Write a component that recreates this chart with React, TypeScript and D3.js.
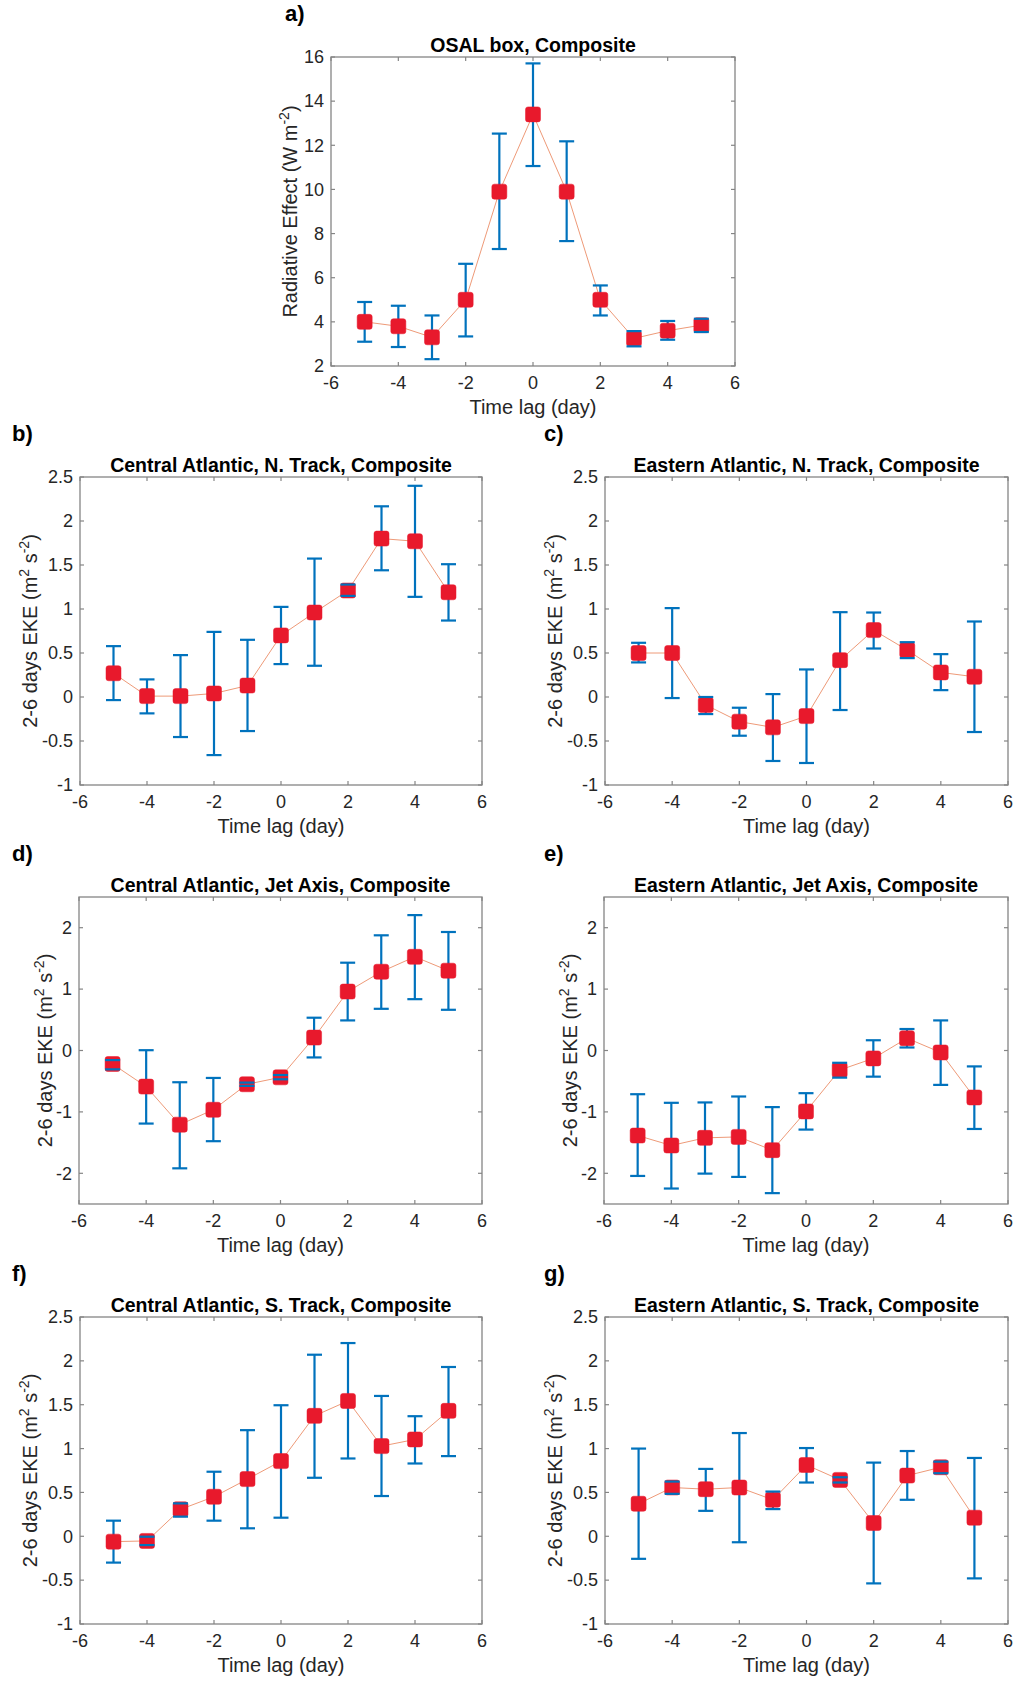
import React from "react"
import { scaleLinear, line } from "d3"

// time lags (days)
const lags = [-5, -4, -3, -2, -1, 0, 1, 2, 3, 4, 5]

const xTicks = [-6, -4, -2, 0, 2, 4, 6]
const yTicksOsal = [2, 4, 6, 8, 10, 12, 14, 16]
const yTicksEke = [-1, -0.5, 0, 0.5, 1, 1.5, 2, 2.5]
const yTicksJet = [-2, -1, 0, 1, 2]

// a) OSAL box
const osalMean = [4.0, 3.8, 3.3, 5.0, 9.9, 13.4, 9.9, 5.0, 3.25, 3.6, 3.85]
const osalLow = [3.1, 2.86, 2.31, 3.34, 7.3, 11.06, 7.66, 4.29, 2.89, 3.19, 3.54]
const osalHigh = [4.9, 4.73, 4.29, 6.63, 12.53, 15.71, 12.18, 5.65, 3.58, 4.04, 4.14]

// b) Central Atlantic, N. Track
const caNMean = [0.27, 0.01, 0.01, 0.04, 0.13, 0.7, 0.96, 1.21, 1.8, 1.77, 1.19]
const caNLow = [-0.035, -0.186, -0.455, -0.66, -0.387, 0.374, 0.355, 1.149, 1.44, 1.138, 0.869]
const caNHigh = [0.578, 0.2, 0.476, 0.74, 0.65, 1.024, 1.573, 1.278, 2.167, 2.4, 1.509]

// c) Eastern Atlantic, N. Track
const eaNMean = [0.5, 0.5, -0.09, -0.28, -0.345, -0.217, 0.419, 0.76, 0.533, 0.279, 0.23]
const eaNLow = [0.393, -0.012, -0.194, -0.44, -0.727, -0.75, -0.148, 0.551, 0.442, 0.078, -0.398]
const eaNHigh = [0.616, 1.01, 0.0, -0.122, 0.033, 0.313, 0.964, 0.96, 0.623, 0.487, 0.858]

// d) Central Atlantic, Jet Axis
const caJMean = [-0.22, -0.588, -1.208, -0.965, -0.55, -0.437, 0.21, 0.96, 1.283, 1.526, 1.3]
const caJLow = [-0.307, -1.19, -1.919, -1.477, -0.577, -0.469, -0.113, 0.49, 0.679, 0.836, 0.663]
const caJHigh = [-0.156, 0.005, -0.517, -0.447, -0.523, -0.399, 0.534, 1.43, 1.876, 2.205, 1.93]

// e) Eastern Atlantic, Jet Axis
const eaJMean = [-1.385, -1.547, -1.423, -1.407, -1.623, -0.992, -0.318, -0.129, 0.2, -0.032, -0.765]
const eaJLow = [-2.043, -2.248, -2.005, -2.059, -2.323, -1.288, -0.442, -0.426, 0.049, -0.56, -1.278]
const eaJHigh = [-0.712, -0.852, -0.846, -0.749, -0.922, -0.695, -0.2, 0.167, 0.35, 0.49, -0.259]

// f) Central Atlantic, S. Track
const caSMean = [-0.061, -0.053, 0.307, 0.451, 0.652, 0.857, 1.373, 1.543, 1.028, 1.104, 1.43]
const caSLow = [-0.3, -0.1, 0.224, 0.178, 0.091, 0.212, 0.667, 0.887, 0.459, 0.83, 0.914]
const caSHigh = [0.178, -0.005, 0.375, 0.736, 1.21, 1.494, 2.07, 2.203, 1.6, 1.369, 1.93]

// g) Eastern Atlantic, S. Track
const eaSMean = [0.371, 0.556, 0.537, 0.556, 0.416, 0.813, 0.643, 0.151, 0.692, 0.787, 0.212]
const eaSLow = [-0.257, 0.484, 0.29, -0.068, 0.31, 0.613, 0.613, -0.537, 0.416, 0.719, -0.48]
const eaSHigh = [1.0, 0.624, 0.768, 1.177, 0.51, 1.006, 0.673, 0.84, 0.972, 0.851, 0.893]

const FONT = "'Liberation Sans', Arial, Helvetica, sans-serif"
const TEXT = "#262626"
const AXIS = "#858585"
const BLUE = "#0072BD"
const RED = "#E8192C"
const LINE = "#EE9A78"

interface PanelProps {
  tag: string
  tagX: number
  title: string
  left: number
  top: number
  width: number
  height: number
  yDomain: [number, number]
  yTicks: number[]
  mean: number[]
  low: number[]
  high: number[]
  yLabelOffset: number
  osal?: boolean
}

function Panel({
  tag, tagX, title, left, top, width, height, yDomain, yTicks,
  mean, low, high, yLabelOffset, osal,
}: PanelProps) {
  const x = scaleLinear().domain([-6, 6]).range([0, width])
  const y = scaleLinear().domain(yDomain).range([height, 0])
  const tickLen = 4
  const capHalf = 7.5
  const marker = 15
  const pts = lags.map((l, i) => [x(l), y(mean[i])] as [number, number])
  const path = line()(pts) ?? ""

  return (
    <g transform={`translate(${left},${top})`} fontFamily={FONT}>
      <text x={tagX - left} y={-36} fontSize={22} fontWeight="bold" fill="#000">{tag}</text>
      <text x={width / 2} y={-5} textAnchor="middle" fontSize={19.5}
        fontWeight="bold" fill="#000">{title}</text>

      {/* ticks */}
      {xTicks.map((t) => (
        <g key={"x" + t}>
          <line x1={x(t)} x2={x(t)} y1={height} y2={height - tickLen} stroke={AXIS} strokeWidth={1.2} />
          <line x1={x(t)} x2={x(t)} y1={0} y2={tickLen} stroke={AXIS} strokeWidth={1.2} />
          <text x={x(t)} y={height + 23} textAnchor="middle" fontSize={18} fill={TEXT}>{t}</text>
        </g>
      ))}
      {yTicks.map((t) => (
        <g key={"y" + t}>
          <line x1={0} x2={tickLen} y1={y(t)} y2={y(t)} stroke={AXIS} strokeWidth={1.2} />
          <line x1={width} x2={width - tickLen} y1={y(t)} y2={y(t)} stroke={AXIS} strokeWidth={1.2} />
          <text x={-7} y={y(t)} dy="0.35em" textAnchor="end" fontSize={18} fill={TEXT}>{t}</text>
        </g>
      ))}
      <rect x={0} y={0} width={width} height={height} fill="none" stroke={AXIS} strokeWidth={1.3} />

      {/* axis labels */}
      <text x={width / 2} y={height + 48} textAnchor="middle" fontSize={20} fill={TEXT}>Time lag (day)</text>
      <text transform={`translate(${-yLabelOffset},${height / 2}) rotate(-90)`} textAnchor="middle" fontSize={20} fill={TEXT}>
        {osal ? (
          <>
            Radiative Effect (W m<tspan fontSize={14} dy={-8}>-2</tspan><tspan dy={8}>)</tspan>
          </>
        ) : (
          <>
            2-6 days EKE (m<tspan fontSize={14} dy={-8}>2</tspan><tspan dy={8}> s</tspan><tspan fontSize={14} dy={-8}>-2</tspan><tspan dy={8}>)</tspan>
          </>
        )}
      </text>

      {/* error bar stems */}
      {lags.map((l, i) => (
        <line key={"s" + l} x1={x(l)} x2={x(l)} y1={y(low[i])} y2={y(high[i])} stroke={BLUE} strokeWidth={2.2} />
      ))}
      <path d={path} fill="none" stroke={LINE} strokeWidth={1} />
      {lags.map((l, i) => (
        <rect key={"m" + l} x={x(l) - marker / 2} y={y(mean[i]) - marker / 2} width={marker} height={marker}
          rx={2.5} fill={RED} stroke={RED} strokeWidth={0.5} />
      ))}
      {/* caps */}
      {lags.map((l, i) => (
        <g key={"c" + l}>
          <line x1={x(l) - capHalf} x2={x(l) + capHalf} y1={y(low[i])} y2={y(low[i])} stroke={BLUE} strokeWidth={2.2} />
          <line x1={x(l) - capHalf} x2={x(l) + capHalf} y1={y(high[i])} y2={y(high[i])} stroke={BLUE} strokeWidth={2.2} />
        </g>
      ))}
    </g>
  )
}

export default function App() {
  return (
    <svg width={1016} height={1681} style={{ position: "absolute", left: 0, top: 0, background: "#fff" }}>
      <rect width={1016} height={1681} fill="#fff" />
      <Panel tag="a)" tagX={285} title="OSAL box, Composite" left={331} top={57} width={404} height={309}
        yDomain={[2, 16]} yTicks={yTicksOsal} mean={osalMean} low={osalLow} high={osalHigh} yLabelOffset={34} osal />
      <Panel tag="b)" tagX={12} title="Central Atlantic, N. Track, Composite" left={80} top={477} width={402} height={308}
        yDomain={[-1, 2.5]} yTicks={yTicksEke} mean={caNMean} low={caNLow} high={caNHigh} yLabelOffset={43} />
      <Panel tag="c)" tagX={544} title="Eastern Atlantic, N. Track, Composite" left={605} top={477} width={403} height={308}
        yDomain={[-1, 2.5]} yTicks={yTicksEke} mean={eaNMean} low={eaNLow} high={eaNHigh} yLabelOffset={43} />
      <Panel tag="d)" tagX={12} title="Central Atlantic, Jet Axis, Composite" left={79} top={897} width={403} height={307}
        yDomain={[-2.5, 2.5]} yTicks={yTicksJet} mean={caJMean} low={caJLow} high={caJHigh} yLabelOffset={27} />
      <Panel tag="e)" tagX={544} title="Eastern Atlantic, Jet Axis, Composite" left={604} top={897} width={404} height={307}
        yDomain={[-2.5, 2.5]} yTicks={yTicksJet} mean={eaJMean} low={eaJLow} high={eaJHigh} yLabelOffset={27} />
      <Panel tag="f)" tagX={12} title="Central Atlantic, S. Track, Composite" left={80} top={1317} width={402} height={307}
        yDomain={[-1, 2.5]} yTicks={yTicksEke} mean={caSMean} low={caSLow} high={caSHigh} yLabelOffset={43} />
      <Panel tag="g)" tagX={544} title="Eastern Atlantic, S. Track, Composite" left={605} top={1317} width={403} height={307}
        yDomain={[-1, 2.5]} yTicks={yTicksEke} mean={eaSMean} low={eaSLow} high={eaSHigh} yLabelOffset={43} />
    </svg>
  )
}
